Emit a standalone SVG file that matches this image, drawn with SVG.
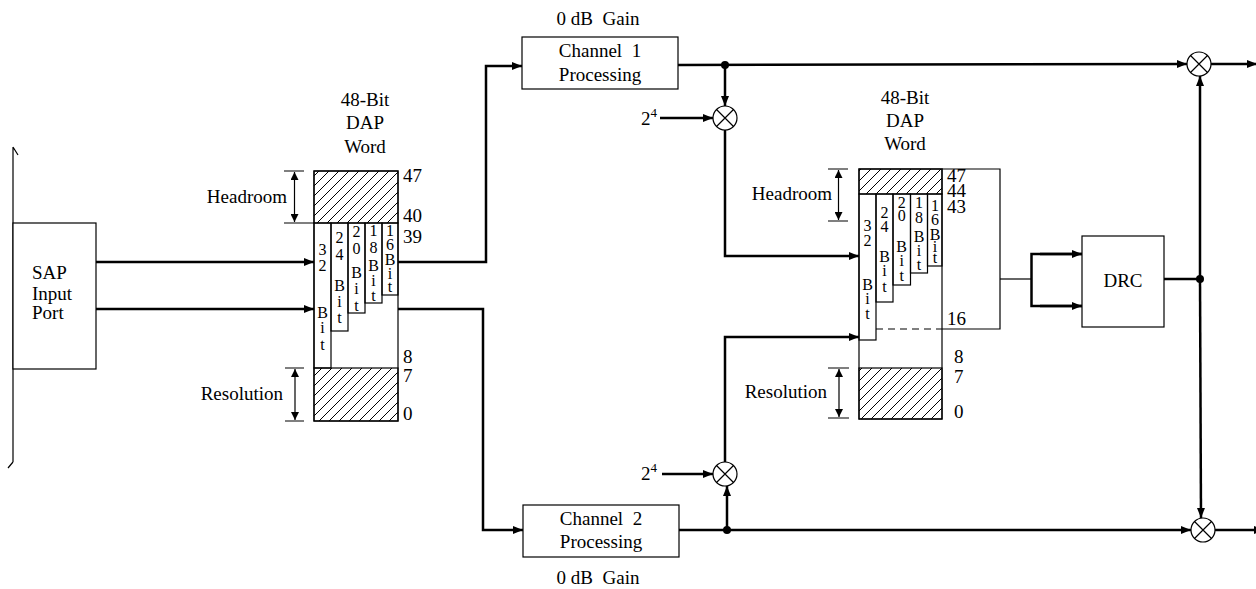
<svg xmlns="http://www.w3.org/2000/svg" width="1256" height="589" viewBox="0 0 1256 589" font-family="'Liberation Serif', 'DejaVu Serif', serif">
<style>
text{font-family:"Liberation Serif","DejaVu Serif",serif;font-size:19px;fill:#000}
.m{text-anchor:middle}
.e{text-anchor:end}
.c{font-size:16px;text-anchor:middle}
.box{fill:#fff;stroke:#000;stroke-width:1.2}
.thin{fill:none;stroke:#000;stroke-width:1.2}
.w{fill:none;stroke:#000;stroke-width:2.5}
.hatch{fill:url(#hp);stroke:#000;stroke-width:1.2}
.dim{fill:none;stroke:#000;stroke-width:1.2;marker-start:url(#sa);marker-end:url(#sa)}
.dot{fill:#000}
</style>
<defs>
<pattern id="hp" patternUnits="userSpaceOnUse" width="10" height="10">
<path d="M0,10 L10,0 M-2,2 L2,-2 M8,12 L12,8" stroke="#000" stroke-width="1"/>
</pattern>
<marker id="ar" markerWidth="10" markerHeight="8" refX="10" refY="4" orient="auto" markerUnits="userSpaceOnUse">
<path d="M0,0 L10,4 L0,8 Z" fill="#000"/>
</marker>
<marker id="sa" markerWidth="8" markerHeight="8" refX="8" refY="4" orient="auto-start-reverse" markerUnits="userSpaceOnUse">
<path d="M0,0 L8,4 L0,8 Z" fill="#000"/>
</marker>
</defs>

<g id="bracket">
<path class="thin" d="M13,147 L13,462 M13,147 L18,155 M13,462 L8,468"/>
</g>

<g id="sap">
<rect class="box" x="13" y="223" width="83" height="146"/>
<text x="32" y="279">SAP</text>
<text x="32" y="300">Input</text>
<text x="32" y="319">Port</text>
</g>

<g id="word1">
<text class="m" x="365" y="106">48-Bit</text>
<text class="m" x="365" y="129">DAP</text>
<text class="m" x="365" y="153">Word</text>
<rect class="thin" x="314" y="171" width="84" height="250"/>
<rect class="hatch" x="314" y="171" width="84" height="52"/>
<rect class="hatch" x="314" y="368" width="84" height="53"/>
<rect class="thin" x="314" y="223" width="17" height="145"/>
<rect class="thin" x="331" y="223" width="17" height="108"/>
<rect class="thin" x="348" y="223" width="17" height="90"/>
<rect class="thin" x="365" y="223" width="17" height="80"/>
<rect class="thin" x="382" y="223" width="16" height="72"/>
<text class="c"><tspan x="322.5" y="255">3</tspan><tspan x="322.5" y="271">2</tspan><tspan x="322.5" y="318">B</tspan><tspan x="322.5" y="333">i</tspan><tspan x="322.5" y="350">t</tspan></text>
<text class="c"><tspan x="339.5" y="243">2</tspan><tspan x="339.5" y="260">4</tspan><tspan x="339.5" y="291">B</tspan><tspan x="339.5" y="307">i</tspan><tspan x="339.5" y="323">t</tspan></text>
<text class="c"><tspan x="356.5" y="237">2</tspan><tspan x="356.5" y="254">0</tspan><tspan x="356.5" y="278">B</tspan><tspan x="356.5" y="294">i</tspan><tspan x="356.5" y="311">t</tspan></text>
<text class="c"><tspan x="373.5" y="236">1</tspan><tspan x="373.5" y="253">8</tspan><tspan x="373.5" y="271">B</tspan><tspan x="373.5" y="286">i</tspan><tspan x="373.5" y="301">t</tspan></text>
<text class="c"><tspan x="390" y="236">1</tspan><tspan x="390" y="250">6</tspan><tspan x="390" y="265">B</tspan><tspan x="390" y="279">i</tspan><tspan x="390" y="292">t</tspan></text>
<path class="thin" d="M284,171 L304,171 M284,223 L314,223 M285,368 L304,368 M285,421 L304,421"/>
<path class="dim" d="M294.5,172 L294.5,222"/>
<path class="dim" d="M295,369 L295,420"/>
<text class="e" x="287" y="203">Headroom</text>
<text class="e" x="283" y="400">Resolution</text>
<text x="403" y="182">47</text>
<text x="403" y="222">40</text>
<text x="403" y="243">39</text>
<text x="403" y="363">8</text>
<text x="403" y="382">7</text>
<text x="403" y="420">0</text>
</g>

<g id="ch1">
<text class="m" x="598" y="25" xml:space="preserve">0 dB  Gain</text>
<rect class="box" x="522" y="37" width="156" height="52"/>
<text class="m" x="600" y="57" xml:space="preserve">Channel  1</text>
<text class="m" x="600" y="81">Processing</text>
</g>

<g id="ch2">
<rect class="box" x="523" y="505" width="156" height="52"/>
<text class="m" x="601" y="525" xml:space="preserve">Channel  2</text>
<text class="m" x="601" y="548">Processing</text>
<text class="m" x="598" y="584" xml:space="preserve">0 dB  Gain</text>
</g>

<g id="mul1">
<circle class="thin" cx="725" cy="118" r="12"/>
<path class="thin" d="M716.5,109.5 L733.5,126.5 M733.5,109.5 L716.5,126.5"/>
<text x="641" y="125">2<tspan font-size="13" dy="-8">4</tspan></text>
</g>

<g id="mul2">
<circle class="thin" cx="725" cy="474" r="12"/>
<path class="thin" d="M716.5,465.5 L733.5,482.5 M733.5,465.5 L716.5,482.5"/>
<text x="641" y="480">2<tspan font-size="13" dy="-8">4</tspan></text>
</g>

<g id="word2">
<text class="m" x="905" y="104">48-Bit</text>
<text class="m" x="905" y="127">DAP</text>
<text class="m" x="905" y="150">Word</text>
<rect class="thin" x="859" y="169" width="83" height="250"/>
<rect class="hatch" x="859" y="169" width="83" height="25"/>
<rect class="hatch" x="859" y="368" width="83" height="51"/>
<rect class="thin" x="859" y="194" width="17" height="146"/>
<rect class="thin" x="876" y="194" width="17" height="108"/>
<rect class="thin" x="893" y="194" width="17.5" height="91"/>
<rect class="thin" x="910.5" y="194" width="17" height="79"/>
<rect class="thin" x="927.5" y="194" width="14.5" height="72"/>
<path class="thin" d="M876,329 L942,329" stroke-dasharray="7,5"/>
<path class="thin" d="M942,169 L1000,169 L1000,329 L942,329"/>
<text class="c"><tspan x="867.5" y="231">3</tspan><tspan x="867.5" y="246">2</tspan><tspan x="867.5" y="290">B</tspan><tspan x="867.5" y="304">i</tspan><tspan x="867.5" y="319">t</tspan></text>
<text class="c"><tspan x="884.5" y="218">2</tspan><tspan x="884.5" y="232">4</tspan><tspan x="884.5" y="262">B</tspan><tspan x="884.5" y="276">i</tspan><tspan x="884.5" y="292">t</tspan></text>
<text class="c"><tspan x="901.7" y="208">2</tspan><tspan x="901.7" y="221">0</tspan><tspan x="901.7" y="252">B</tspan><tspan x="901.7" y="266">i</tspan><tspan x="901.7" y="281">t</tspan></text>
<text class="c"><tspan x="919" y="208">1</tspan><tspan x="919" y="223">8</tspan><tspan x="919" y="242">B</tspan><tspan x="919" y="256">i</tspan><tspan x="919" y="270">t</tspan></text>
<text class="c"><tspan x="935" y="211">1</tspan><tspan x="935" y="225">6</tspan><tspan x="935" y="240">B</tspan><tspan x="935" y="252">i</tspan><tspan x="935" y="263">t</tspan></text>
<path class="thin" d="M828,169 L848,169 M828,221 L848,221 M828,368 L849,368 M828,418 L849,418"/>
<path class="dim" d="M838.5,170 L838.5,220"/>
<path class="dim" d="M839,369 L839,417"/>
<text class="e" x="832" y="200">Headroom</text>
<text class="e" x="827" y="398">Resolution</text>
<text x="947" y="182">47</text>
<text x="947" y="197">44</text>
<text x="947" y="213">43</text>
<text x="947" y="325">16</text>
<text x="954" y="363">8</text>
<text x="954" y="383">7</text>
<text x="954" y="418">0</text>
</g>

<g id="drc">
<rect class="box" x="1082" y="236" width="82" height="91"/>
<text class="m" x="1123" y="287">DRC</text>
</g>

<g id="mul3">
<circle class="thin" cx="1199" cy="64" r="12"/>
<path class="thin" d="M1190.5,55.5 L1207.5,72.5 M1207.5,55.5 L1190.5,72.5"/>
</g>

<g id="mul4">
<circle class="thin" cx="1203" cy="530" r="12"/>
<path class="thin" d="M1194.5,521.5 L1211.5,538.5 M1211.5,521.5 L1194.5,538.5"/>
</g>

<g id="connectors">
<path class="w" d="M96,262 L314,262" marker-end="url(#ar)"/>
<path class="w" d="M96,309 L314,309" marker-end="url(#ar)"/>
<path class="w" d="M398,262 L486,262 L486,66 L522,66" marker-end="url(#ar)"/>
<path class="w" d="M398,309 L483,309 L483,530 L523,530" marker-end="url(#ar)"/>
<path class="w" d="M678,65 L1187,64" marker-end="url(#ar)"/>
<path class="w" d="M725,65 L725,106" marker-end="url(#ar)"/>
<path class="w" d="M660,118 L713,118" marker-end="url(#ar)"/>
<path class="w" d="M725,130 L725,256 L859,256" marker-end="url(#ar)"/>
<path class="w" d="M679,530 L1191,530" marker-end="url(#ar)"/>
<path class="w" d="M727,530 L727,486" marker-end="url(#ar)"/>
<path class="w" d="M662,474 L713,474" marker-end="url(#ar)"/>
<path class="w" d="M725,462 L725,337 L859,337" marker-end="url(#ar)"/>
<path class="w" d="M1211,64 L1257,64" marker-end="url(#ar)"/>
<path class="w" d="M1215,530 L1264,530" marker-end="url(#ar)"/>
<path class="thin" d="M1000,279 L1031,279"/>
<path class="w" d="M1082,254 L1031.5,254 L1031.5,306 L1082,306"/>
<path class="w" d="M1040,254 L1082,254" marker-end="url(#ar)"/>
<path class="w" d="M1040,306 L1082,306" marker-end="url(#ar)"/>
<path class="w" d="M1164,279 L1200,279"/>
<path class="w" d="M1200,279 L1200,76" marker-end="url(#ar)"/>
<path class="w" d="M1200,279 L1201,518" marker-end="url(#ar)"/>
<circle class="dot" cx="725" cy="65" r="4"/>
<circle class="dot" cx="727" cy="530" r="4"/>
<circle class="dot" cx="1200" cy="279" r="4"/>
</g>
</svg>
